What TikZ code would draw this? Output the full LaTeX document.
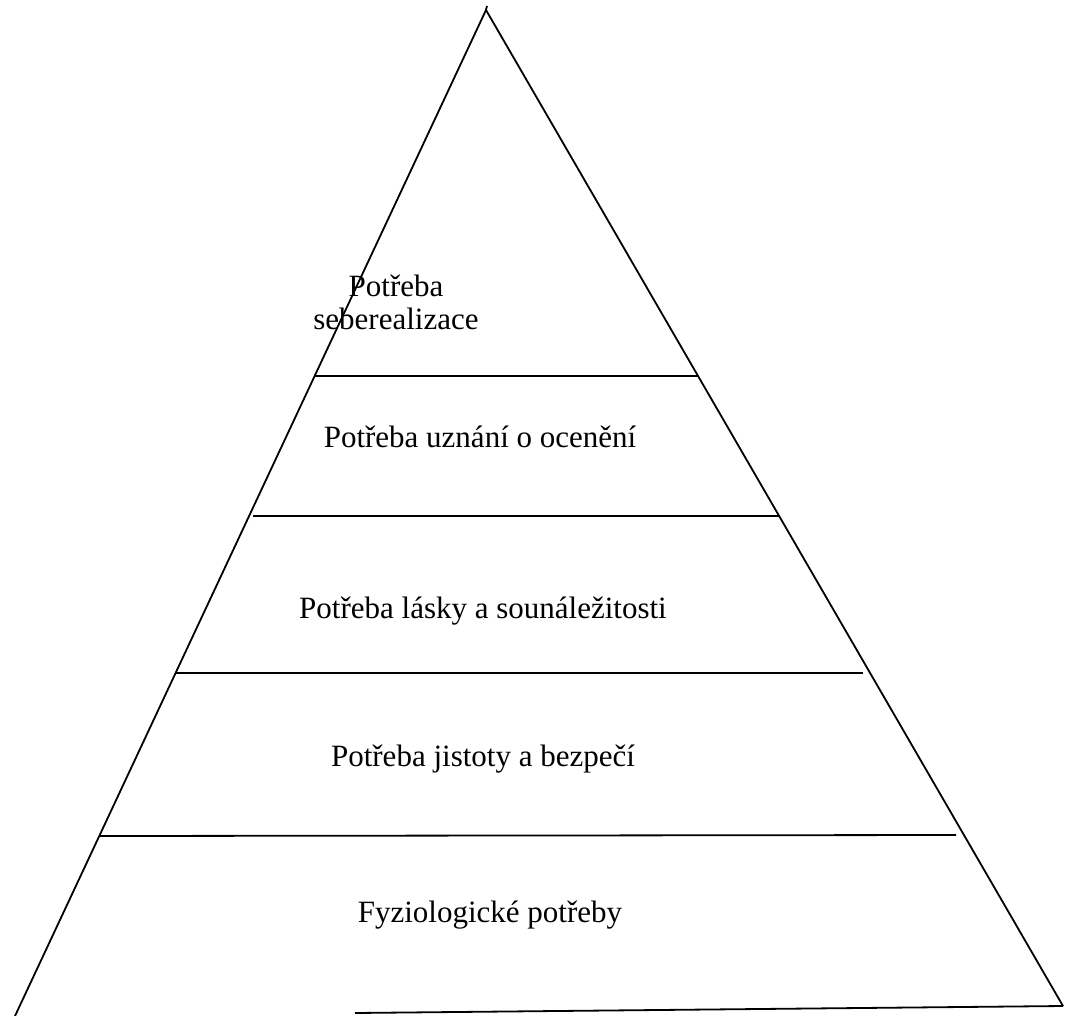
\documentclass[tikz,border=0pt]{standalone}
\usepackage{fontspec}
\setmainfont{Liberation Serif}
\begin{document}
\begin{tikzpicture}[x=1pt,y=-1pt,
  edge/.style={line width=1.8pt,black},
  lbl/.style={font=\fontsize{31}{34}\selectfont,align=center,inner sep=0pt}]
\useasboundingbox (0,0) rectangle (1065,1016);
\coordinate (apex) at (486,10);
\coordinate (bl) at (15,1016);
\coordinate (br) at (1063,1006);
\coordinate (bs) at (355,1013);
\draw[edge] (bl) -- (apex) -- (br);
\draw[edge] (bs) -- (br);
\draw[edge] (486,10) -- (487,6);
\coordinate (l1a) at (315,376); \coordinate (l1b) at (698,376);
\coordinate (l2a) at (253,516); \coordinate (l2b) at (780,516);
\coordinate (l3a) at (175,673); \coordinate (l3b) at (863,673);
\coordinate (l4a) at (99,836);  \coordinate (l4b) at (956,835);
\draw[edge] (l1a) -- (l1b);
\draw[edge] (l2a) -- (l2b);
\draw[edge] (l3a) -- (l3b);
\draw[edge] (l4a) -- (l4b);
\node[lbl] (t1) at (396,302) {Potřeba\\[-1pt]seberealizace};
\node[lbl] (t2) at (480,437) {Potřeba uznání o ocenění};
\node[lbl] (t3) at (483,611) {Potřeba lásky a sounáležitosti};
\node[lbl] (t4) at (483,759) {Potřeba jistoty a bezpečí};
\node[lbl] (t5) at (490,915) {Fyziologické potřeby};
\end{tikzpicture}
\end{document}
